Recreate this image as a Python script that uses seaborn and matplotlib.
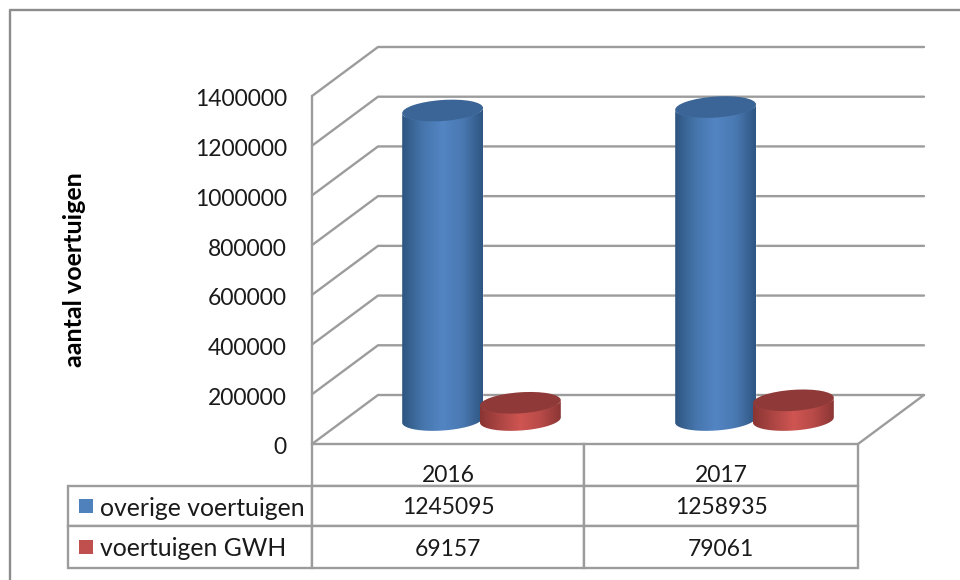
import matplotlib
matplotlib.use("Agg")
import matplotlib.pyplot as plt
import numpy as np
import pandas as pd
import seaborn as sns
from matplotlib.colors import LinearSegmentedColormap
from matplotlib.lines import Line2D
from matplotlib.patches import Ellipse, Polygon, Rectangle
from matplotlib.transforms import Affine2D, IdentityTransform

years = ["2016", "2017"]
series_names = ["overige voertuigen", "voertuigen GWH"]
overige = [1245095, 1258935]
gwh = [69157, 79061]
y_ticks = [0, 200000, 400000, 600000, 800000, 1000000, 1200000, 1400000]

W, H = 960, 580
GRID = "#9c9c9c"
TEXT = "#1a1a1a"
DEPTH = (66, 49)      # back wall offset, px
BAR_SHIFT = (33, 24)  # bars stand in the middle of the floor, px
CYL_W, CYL_H, TILT = 81, 21, 4
STYLES = {
    series_names[0]: dict(base="#4f81bd", cap="#3b6596", side=["#2e5580", "#4575ab", "#5385c4", "#4a79b2", "#2f5682"]),
    series_names[1]: dict(base="#c0504d", cap="#8f3a38", side=["#8a3533", "#ad4644", "#cf5551", "#b84b48", "#8b3634"]),
}

sns.set_theme(style="white")
plt.rcParams["font.family"] = ["Lato", "DejaVu Sans"]

df = pd.DataFrame({
    "year": years * 2,
    "serie": [series_names[0]] * 2 + [series_names[1]] * 2,
    "aantal": overige + gwh,
})

fig = plt.figure(figsize=(W / 100, H / 100), dpi=100, facecolor="white")
ax = fig.add_axes([312 / W, 1 - 444 / H, 546 / W, 348 / H])
sns.barplot(data=df, x="year", y="aantal", hue="serie", hue_order=series_names, palette=[STYLES[s]["base"] for s in series_names],
            width=0.57, legend=False, ax=ax, zorder=3, saturation=1)
ax.set_xlim(-0.5, 1.5)
ax.set_ylim(0, 1400000)
ax.set_yticks(y_ticks)
ax.set_yticklabels([str(v) for v in y_ticks])
ax.tick_params(axis="y", length=0, pad=18, labelsize=16.5, labelcolor=TEXT)
for label in ax.get_yticklabels():
    label.set_transform(label.get_transform() + Affine2D().translate(0, -2))
ax.set_xticks([])
ax.set_xlabel("")
ax.set_ylabel("aantal voertuigen", fontsize=18, fontweight="bold", color="black")
ax.yaxis.set_label_coords((86 - 312) / 546, 0.5)
sns.despine(ax=ax, top=True, right=True, left=True, bottom=True)
ax.patch.set_alpha(0)


def to_px(x, y):
    return ax.transData.transform((x, y))


# back wall and side wall
for v in y_ticks:
    x0, y0 = to_px(-0.5, v)
    ax.add_line(Line2D([x0, x0 + DEPTH[0], to_px(1.5, v)[0] + DEPTH[0]], [y0, y0 + DEPTH[1], y0 + DEPTH[1]],
                       transform=IdentityTransform(), color=GRID, lw=1.7, zorder=1, clip_on=False))
x0, y0 = to_px(-0.5, 0)
x1, y1 = to_px(-0.5, 1400000)
ax.add_line(Line2D([x0, x1], [y0, y1], transform=IdentityTransform(), color=GRID, lw=1.7, zorder=1, clip_on=False))
x2, y2 = to_px(1.5, 0)
ax.add_line(Line2D([x2, x2 + DEPTH[0]], [y2, y2 + DEPTH[1]], transform=IdentityTransform(), color=GRID, lw=1.7, zorder=1, clip_on=False))


def half_arc(cx, cy, start, stop):
    t = np.radians(np.linspace(start, stop, 60))
    a = np.radians(TILT)
    ex, ey = CYL_W / 2 * np.cos(t), CYL_H / 2 * np.sin(t)
    return np.column_stack([cx + ex * np.cos(a) - ey * np.sin(a), cy + ex * np.sin(a) + ey * np.cos(a)])


# cylinders are built on the bars seaborn drew
shift = Affine2D().translate(*BAR_SHIFT)
z = 4
for container, name in zip(ax.containers, series_names):
    style = STYLES[name]
    cmap = LinearSegmentedColormap.from_list(name, style["side"])
    for bar in container:
        bar.set_transform(ax.transData + shift)
        cx, base_y = to_px(bar.get_x() + bar.get_width() / 2, 0) + np.array(BAR_SHIFT)
        top_y = to_px(0, bar.get_height())[1] + BAR_SHIFT[1]
        outline = np.vstack([half_arc(cx, base_y, 180, 360), half_arc(cx, top_y, 360, 180)])
        body = Polygon(outline, closed=True, transform=IdentityTransform())
        im = ax.imshow(np.linspace(0, 1, 128)[None, :], cmap=cmap, aspect="auto", zorder=z,
                       extent=[cx - CYL_W / 2, cx + CYL_W / 2, base_y - CYL_H, top_y + CYL_H],
                       transform=IdentityTransform())
        im.set_clip_path(body)
        ax.add_patch(Ellipse((cx, top_y), CYL_W, CYL_H, angle=TILT, transform=IdentityTransform(),
                             facecolor=style["cap"], edgecolor="none", zorder=z + 0.5, clip_on=False))
        z += 1
ax.set_xlim(-0.5, 1.5)
ax.set_ylim(0, 1400000)
ax.set_aspect("auto")

# data table under the plot, first column holds the series names
col_px = [244, 272, 274]
row_px = [42, 40, 42]
cell_text = [[""] + years,
             [series_names[0]] + [str(v) for v in overige],
             [series_names[1]] + [str(v) for v in gwh]]
tbl = ax.table(cellText=cell_text, cellLoc="center", bbox=[(68 - 312) / 546, -124 / 348, 790 / 546, 124 / 348])
tbl.auto_set_font_size(False)
tbl.set_fontsize(16.5)
for (r, c), cell in tbl.get_celld().items():
    cell.set_width(col_px[c])
    cell.set_height(row_px[r])
    cell.set_edgecolor(GRID)
    cell.set_linewidth(1.7)
    cell.get_text().set_color(TEXT)
    cell.get_text().set_va("top" if r == 0 else "center_baseline")
    if c == 0:
        cell.PAD = 32 / 244
        cell.set_text_props(ha="left", fontsize=17.8)
tbl[0, 0].visible_edges = ""

# legend keys inside the row labels
for name, y_mid in zip(series_names, [506, 547]):
    fig.add_artist(Rectangle((79 / W, 1 - (y_mid + 7) / H), 14 / W, 14 / H, transform=fig.transFigure,
                             facecolor=STYLES[name]["base"], edgecolor="none"))

# outer chart border, cropped on the right and at the bottom
fig.add_artist(Line2D([10 / W, 10 / W, 1], [0, 1 - 10 / H, 1 - 10 / H], transform=fig.transFigure, color="#8c8c8c", lw=1.7))

fig.savefig("out.png", dpi=100)
